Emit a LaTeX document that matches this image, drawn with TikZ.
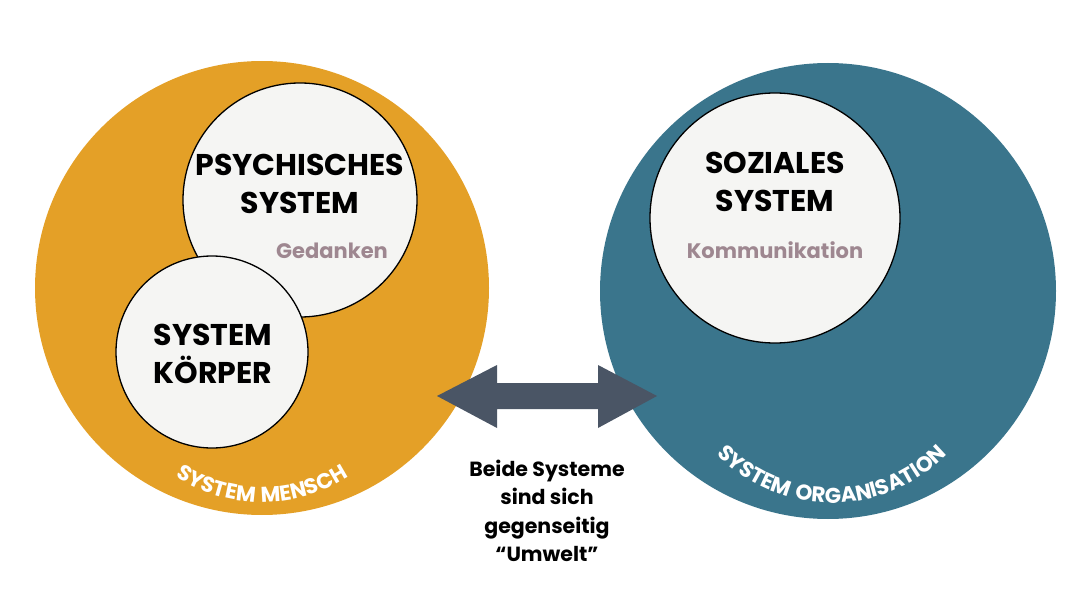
\documentclass[tikz,border=0pt]{standalone}
\usepackage{fontspec}
\setmainfont{Poppins}
\newfontfamily\bogenfont{Poppins}[LetterSpace=6]
\usetikzlibrary{decorations.text}
\definecolor{mensch}{HTML}{E4A027}
\definecolor{orga}{HTML}{3A758C}
\definecolor{innen}{HTML}{F5F5F3}
\definecolor{notiz}{HTML}{9E8790}
\definecolor{pfeil}{HTML}{4A5565}
\tikzset{
  system/.style={circle, fill=#1, inner sep=0},
  sub/.style={circle, draw=black, line width=1.3pt, fill=innen, inner sep=0},
  titel/.style={font=\fontsize{30}{38}\selectfont\bfseries, align=center, text=black},
  notiz/.style={font=\fontsize{21}{24}\selectfont\bfseries, text=notiz},
  bogen/.style={decorate, decoration={text along path, text align=center,
    text={|\color{white}\bogenfont\fontsize{21.5}{21.5}\selectfont\bfseries|#1}}}
}

\begin{document}
\begin{tikzpicture}[x=1pt,y=1pt]
\useasboundingbox (0,0) rectangle (1080,-607);
% the two systems
\node[system=mensch, minimum size=454] (mensch) at (262,-288) {};
\node[system=orga, minimum size=456] (orga) at (828,-291) {};
\node[sub, minimum size=234] (psych) at (300,-200) {};
\node[sub, minimum size=192] (koerper) at (212,-352) {};
\node[sub, minimum size=250] (sozial) at (775,-218) {};
% texts
\node[titel] (psychT) at (300,-184) {PSYCHISCHES\\SYSTEM};
\node[notiz] (psychN) at (332,-251) {Gedanken};
\node[titel] (koerperT) at (213,-354) {SYSTEM\\KÖRPER};
\node[titel] (sozialT) at (775,-182) {SOZIALES\\SYSTEM};
\node[notiz] (sozialN) at (775,-250) {Kommunikation};
% curved labels
\coordinate (menschB) at ([yshift=-54]mensch.center);
\coordinate (orgaB) at ([xshift=4,yshift=-50]orga.center);
\path[bogen={SYSTEM MENSCH}] ([shift={(195:160)}]menschB) arc[start angle=195, end angle=345, radius=160];
\path[bogen={SYSTEM ORGANISATION}] ([shift={(190:162)}]orgaB) arc[start angle=190, end angle=350, radius=162];
% arrow between
\fill[pfeil] (437,-396) -- (497,-365) -- (497,-383) -- (598,-383) -- (598,-365) -- (657,-396)
  -- (598,-428) -- (598,-409) -- (497,-409) -- (497,-428) -- cycle;
\node[font=\fontsize{20.5}{28.5}\selectfont\bfseries, align=center] (umwelt) at (547,-511)
  {Beide Systeme\\sind sich\\gegenseitig\\“Umwelt”};
\end{tikzpicture}
\end{document}
